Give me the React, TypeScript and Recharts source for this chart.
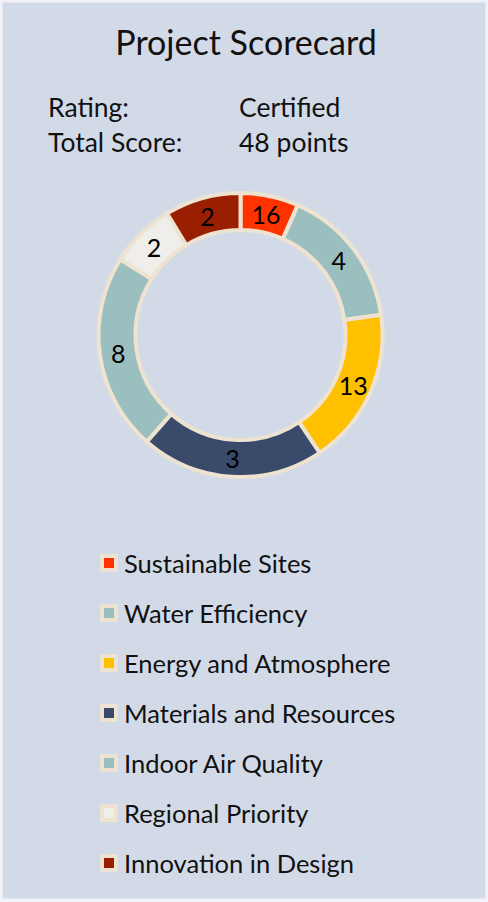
import { PieChart, Pie, Cell, Legend } from "recharts"

// category names, in clockwise order from 12 o'clock
const categories = [
  "Sustainable Sites",
  "Water Efficiency",
  "Energy and Atmosphere",
  "Materials and Resources",
  "Indoor Air Quality",
  "Regional Priority",
  "Innovation in Design",
]
const sliceShares = [23.8, 58, 64.3, 75.2, 80.9, 26.7, 31.1]
// points shown on each slice
const points = [16, 4, 13, 3, 8, 2, 2]
const colors = ["#FF3300", "#9BBFBF", "#FFC000", "#3A4A6B", "#F0EEEA", "#9A1F00"]
const sliceColors = [colors[0], colors[1], colors[2], colors[3], colors[1], colors[4], colors[5]]

const rating = "Certified"
const totalScore = 48

const FONT = "Lato, 'Open Sans', sans-serif"
const RING = "#EDE3D0"

const data = categories.map((name, i) => ({
  name,
  value: sliceShares[i],
  points: points[i],
}))

const RADIAN = Math.PI / 180

const renderLabel = (props: any) => {
  const { cx, cy, midAngle, innerRadius, outerRadius, index } = props
  const r = (innerRadius + outerRadius) / 2
  const x = cx + r * Math.cos(-midAngle * RADIAN)
  const y = cy + r * Math.sin(-midAngle * RADIAN)
  return (
    <text
      x={x}
      y={y}
      fill="#000"
      textAnchor="middle"
      dominantBaseline="central"
      fontSize={25}
      fontFamily={FONT}
    >
      {points[index]}
    </text>
  )
}

const LegendList = () => (
  <div style={{ fontFamily: FONT, fontSize: 25.5, color: "#111" }}>
    {categories.map((name, i) => (
      <div
        key={name}
        style={{ display: "flex", alignItems: "center", height: 50 }}
      >
        <span
          style={{
            width: 10,
            height: 10,
            background: sliceColors[i],
            border: `4px solid ${RING}`,
            borderRadius: 2,
            marginRight: 6,
          }}
        />
        <span>{name}</span>
      </div>
    ))}
  </div>
)

export default function App() {
  return (
    <div
      style={{
        position: "absolute",
        left: 0,
        top: 0,
        width: 488,
        height: 902,
        background: "#F2F2F8",
      }}
    >
      <div
        style={{
          position: "absolute",
          left: 2,
          top: 2,
          width: 484,
          height: 897,
          background: "#D3DAE7",
          border: "1px solid #E4E6F0",
          boxSizing: "border-box",
        }}
      />
      <div
        style={{
          position: "absolute",
          left: 0,
          top: 21,
          width: 492,
          textAlign: "center",
          fontFamily: FONT,
          fontSize: 34,
          color: "#111",
        }}
      >
        Project Scorecard
      </div>
      <div
        style={{
          position: "absolute",
          left: 48,
          top: 90,
          fontFamily: FONT,
          fontSize: 26.5,
          lineHeight: "35px",
          color: "#111",
        }}
      >
        <div style={{ display: "flex" }}>
          <span style={{ width: 191 }}>Rating:</span>
          <span>{rating}</span>
        </div>
        <div style={{ display: "flex" }}>
          <span style={{ width: 191 }}>Total Score:</span>
          <span>{totalScore} points</span>
        </div>
      </div>
      <div style={{ position: "absolute", left: 0, top: 0 }}>
        <PieChart
          width={488}
          height={902}
          margin={{ top: 0, right: 0, bottom: 0, left: 0 }}
        >
          <Pie
            data={data}
            dataKey="value"
            nameKey="name"
            cx={240.5}
            cy={335}
            innerRadius={105}
            outerRadius={142}
            startAngle={90}
            endAngle={-270}
            stroke={RING}
            strokeWidth={4}
            label={renderLabel}
            labelLine={false}
            isAnimationActive={false}
          >
            {data.map((d, i) => (
              <Cell key={d.name} fill={sliceColors[i]} />
            ))}
          </Pie>
          <Legend
            layout="vertical"
            content={() => <LegendList />}
            wrapperStyle={{ position: "absolute", left: 100, top: 538, width: 360 }}
          />
        </PieChart>
      </div>
    </div>
  )
}
